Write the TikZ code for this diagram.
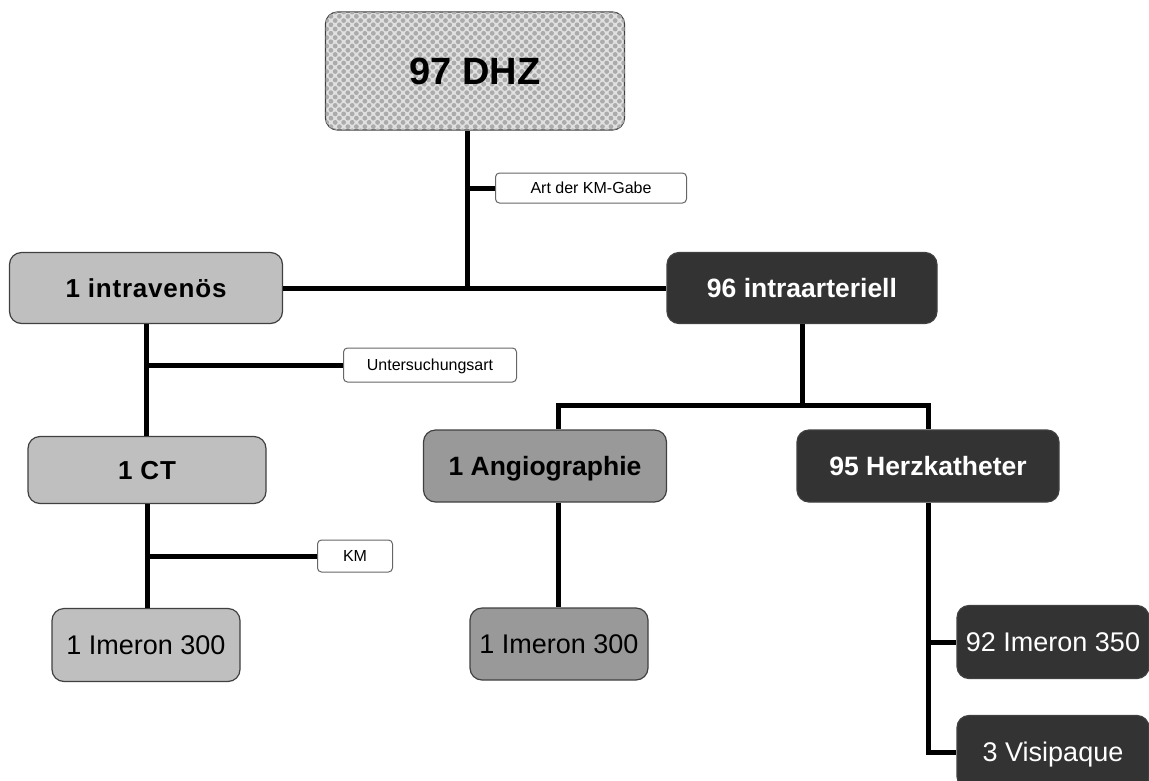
\documentclass[tikz,border=0pt]{standalone}
\usepackage{fontspec}
\setmainfont{Liberation Sans}
\newfontfamily\spacedfont[LetterSpace=3]{Liberation Sans}
\usetikzlibrary{positioning,patterns.meta}

\begin{document}
\begin{tikzpicture}[x=1pt, y=-1pt,
  box/.style={draw=black!75, line width=1.2pt, rounded corners=12pt, align=center, inner sep=0pt, text depth=0pt},
  light/.style={box, fill=black!25},
  mid/.style={box, fill=black!40},
  dark/.style={box, fill=black!80, text=white},
  tag/.style={draw=black!60, line width=1pt, rounded corners=4pt, fill=white, inner sep=0pt, font=\fontsize{16}{18}\selectfont, text height=11.5pt, text depth=0pt},
  head/.style={font=\spacedfont\bfseries\fontsize{26}{30}\selectfont, text height=18.6pt},
  bighead/.style={font=\bfseries\fontsize{26.5}{30}\selectfont, text height=19pt},
  leaf/.style={font=\fontsize{27}{30}\selectfont, text height=19.3pt},
  link/.style={line width=5pt}]
\useasboundingbox (0,0) rectangle (1149,780);
\node[box, fill=black!12, postaction={pattern={Dots[distance=6pt, radius=2.4pt, angle=45]}, pattern color=black!33}, minimum width=299pt, minimum height=118pt, font=\bfseries\fontsize{38}{42}\selectfont, text height=27pt] (dhz) at (475,71) {97 DHZ};
\node[light, head, minimum width=273pt, minimum height=71pt] (iv) at (146,288) {1 intravenös};
\node[dark, bighead, minimum width=270pt, minimum height=71pt] (ia) at (802,288) {96 intraarteriell};
\node[light, head, minimum width=238pt, minimum height=67pt] (ct) at (147,470) {1 CT};
\node[mid, bighead, minimum width=243pt, minimum height=72pt] (ang) at (545,466) {1 Angiographie};
\node[dark, bighead, minimum width=262pt, minimum height=72pt] (hk) at (928,466) {95 Herzkatheter};
\node[light, leaf, minimum width=188pt, minimum height=73pt] (imct) at (146,645) {1 Imeron 300};
\node[mid, leaf, minimum width=178pt, minimum height=72pt] (imang) at (559,644) {1 Imeron 300};
\node[dark, leaf, minimum width=192pt, minimum height=73pt] (imhk) at (1053,642) {92 Imeron 350};
\node[dark, leaf, minimum width=192pt, minimum height=73pt] (vis) at (1053,752) {3 Visipaque};
\node[tag, minimum width=191pt, minimum height=30pt] (art) at (591,188) {Art der KM-Gabe};
\node[tag, minimum width=173pt, minimum height=34pt] (us) at (430,365) {Untersuchungsart};
\node[tag, minimum width=75pt, minimum height=32pt] (km) at (355,556) {KM};
\coordinate (dhzfoot) at ([xshift=-8pt]dhz.south);
\coordinate (fork) at (800,405);
\coordinate (angtop) at ([xshift=13pt]ang.north);
\coordinate (angfoot) at ([xshift=13pt]ang.south);
\draw[link] (dhzfoot) -- (dhzfoot |- iv.east);
\draw[link] (dhzfoot |- art.west) -- (art.west);
\draw[link] (iv.east) -- (ia.west);
\draw[link] (iv.south) -- (iv.south |- ct.north);
\draw[link] (iv.south |- us.west) -- (us.west);
\draw[link] (ct.south) -- (ct.south |- imct.north);
\draw[link] (ct.south |- km.west) -- (km.west);
\draw[link] (ia.south) -- (ia.south |- fork);
\draw[link] (angtop) -- (angtop |- fork) -- (hk.north |- fork) -- (hk.north);
\draw[link] (angfoot) -- (angfoot |- imang.north);
\draw[link] (hk.south) -- (hk.south |- vis.west) -- (vis.west);
\draw[link] (hk.south |- imhk.west) -- (imhk.west);
\end{tikzpicture}
\end{document}
